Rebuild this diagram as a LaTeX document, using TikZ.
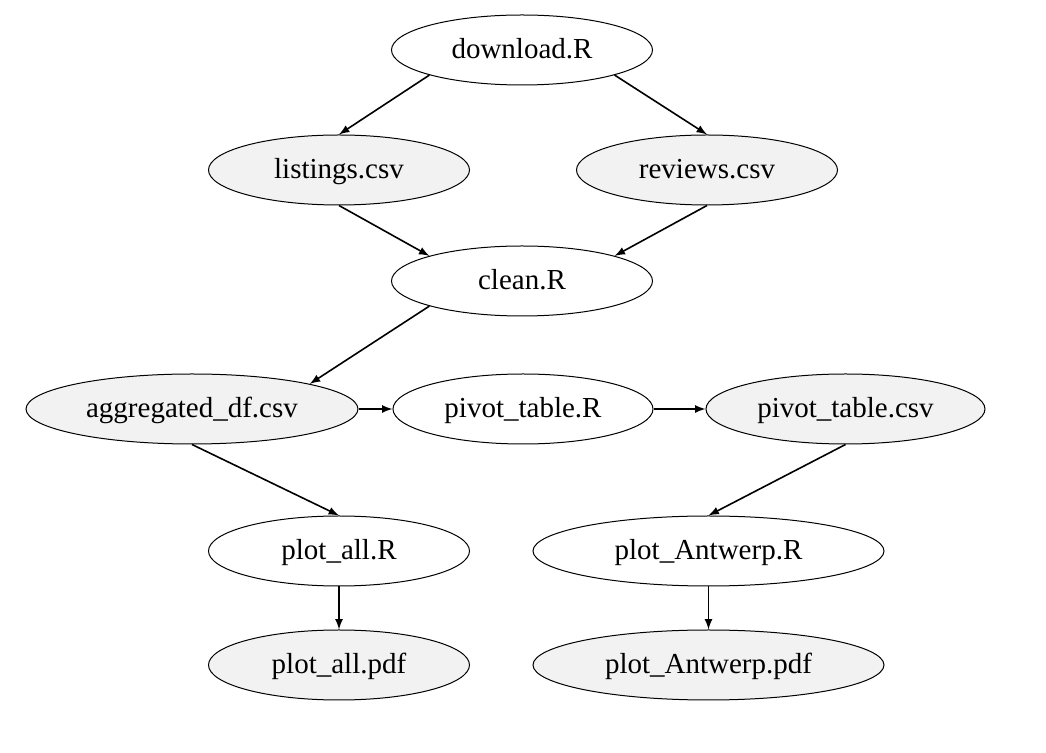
\documentclass[tikz,border=0pt]{standalone}
\usepackage{fontspec}
\setmainfont{Liberation Serif}
\usetikzlibrary{shapes.geometric}
\begin{document}
\begin{tikzpicture}[x=0.5pt, y=-0.5pt,
    rscript/.style={ellipse, draw=black, line width=0.5pt, inner sep=0pt, minimum height=35pt, text height=11pt, text depth=2pt, font=\fontsize{14.5}{16}\selectfont},
    datafile/.style={rscript, fill=black!5},
    flow/.style={color=black, line width=0.8pt, -latex}]
    \useasboundingbox (0,0) rectangle (1046,753);
    \node[rscript, minimum width=130.5pt] (s1) at (522,50) {download.R};
    \node[datafile, minimum width=130.5pt] (f1) at (339,170) {listings.csv};
    \node[datafile, minimum width=130.5pt] (f2) at (707,170) {reviews.csv};
    \node[rscript, minimum width=130.5pt] (s2) at (522,281) {clean.R};
    \node[datafile, minimum width=166pt] (f3) at (192,409) {aggregated\_df.csv};
    \node[rscript, minimum width=130pt] (s3) at (523,409) {pivot\_table.R};
    \node[datafile, minimum width=139.5pt] (f4) at (845.5,409) {pivot\_table.csv};
    \node[rscript, minimum width=130.5pt] (s4) at (339,551) {plot\_all.R};
    \node[rscript, minimum width=175.5pt] (s5) at (708.5,551) {plot\_Antwerp.R};
    \node[datafile, minimum width=130.5pt] (f5) at (339,665) {plot\_all.pdf};
    \node[datafile, minimum width=175.5pt] (f6) at (708.5,665) {plot\_Antwerp.pdf};
    \draw[flow] (s1.south west) -- (f1.north);
    \draw[flow] (s1.south east) -- (f2.north);
    \draw[flow] (f1.south) -- (s2.north west);
    \draw[flow] (f2.south) -- (s2.north east);
    \draw[flow] (s2.south west) -- (f3.north east);
    \draw[flow] (f3.east) -- (s3.west);
    \draw[flow] (s3.east) -- (f4.west);
    \draw[flow] (f3.south) -- (s4.north);
    \draw[flow] (f4.south) -- (s5.north);
    \draw[flow] (s4) -- (f5);
    \draw[flow] (s5) -- (f6);
\end{tikzpicture}
\end{document}
